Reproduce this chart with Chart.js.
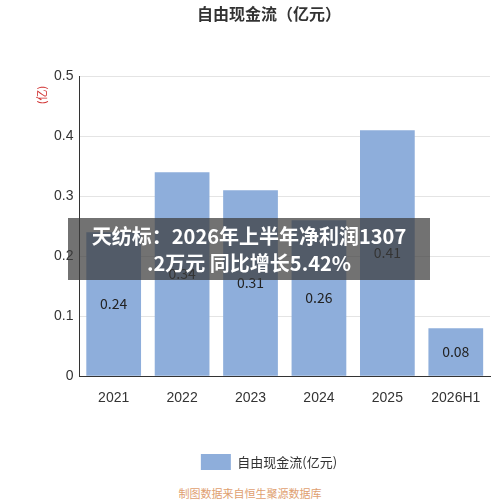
<!DOCTYPE html>
<html><head><meta charset="utf-8">
<script src="https://cdn.jsdelivr.net/npm/chart.js@4"></script>
<style>
body{margin:0;width:500px;height:500px;background:#fff;font-family:"Noto Sans CJK SC","Noto Sans",sans-serif;position:relative;overflow:hidden}
#wrap{position:absolute;left:0;top:0;width:500px;height:480px}
#banner{position:absolute;left:68px;top:218px;width:362px;height:62px;background:rgba(60,60,60,0.72);color:#fff;font-weight:bold;font-size:20px;line-height:27px;text-align:center;padding-top:4px;box-sizing:border-box;white-space:nowrap}
#foot{position:absolute;left:0;width:500px;top:485px;text-align:center;font-size:11px;color:#e0a070}
</style></head><body>
<div id="wrap"><canvas id="c" width="500" height="480"></canvas></div>
<div id="banner">天纺标：2026年上半年净利润1307<br>.2万元 同比增长5.42%</div>
<div id="foot">制图数据来自恒生聚源数据库</div>
<script>
const categories=["2021","2022","2023","2024","2025","2026H1"];
const values=[0.24,0.34,0.31,0.26,0.41,0.08];
const seriesName="自由现金流(亿元)";
const labelPlugin={id:'lbl',afterDatasetsDraw(ch){const ctx=ch.ctx;const m=ch.getDatasetMeta(0);ctx.save();ctx.font='14px "Noto Sans CJK SC"';ctx.fillStyle='#222';ctx.textAlign='center';ctx.textBaseline='middle';
m.data.forEach((b,i)=>{ctx.fillText(values[i].toFixed(2),b.x,(b.y+b.base)/2);});ctx.restore();}};
const unitPlugin={id:'unit',afterDraw(ch){const ctx=ch.ctx;ctx.save();ctx.translate(42,95);ctx.rotate(-Math.PI/2);ctx.font='11px "Noto Sans CJK SC"';ctx.fillStyle='#d03030';ctx.textAlign='center';ctx.textBaseline='middle';ctx.fillText('(亿)',0,0);ctx.restore();}};
new Chart(document.getElementById('c'),{type:'bar',
data:{labels:categories,datasets:[{label:seriesName,data:values,backgroundColor:'#8eaedb',barPercentage:0.8,categoryPercentage:1}]},
options:{responsive:false,animation:false,
layout:{padding:{left:48,right:10,top:0,bottom:0}},
plugins:{title:{display:true,text:'自由现金流（亿元）',font:{size:16,weight:'bold',family:'Noto Sans CJK SC'},color:'#333',padding:{top:4,bottom:53}},
legend:{position:'bottom',labels:{boxWidth:30,boxHeight:16,font:{size:13,family:'Noto Sans CJK SC'},color:'#333',padding:20}},tooltip:{enabled:false}},
scales:{y:{min:0,max:0.5,ticks:{stepSize:0.1,font:{size:14},color:'#333',padding:6},grid:{color:'#e4e4e4',drawTicks:false},border:{display:true,color:'#333'}},
x:{afterFit(s){s.height+=21;},ticks:{font:{size:14},color:'#333',padding:6},grid:{display:false,drawTicks:true},border:{color:'#333'}}}},
plugins:[labelPlugin,unitPlugin]});
</script></body></html>
